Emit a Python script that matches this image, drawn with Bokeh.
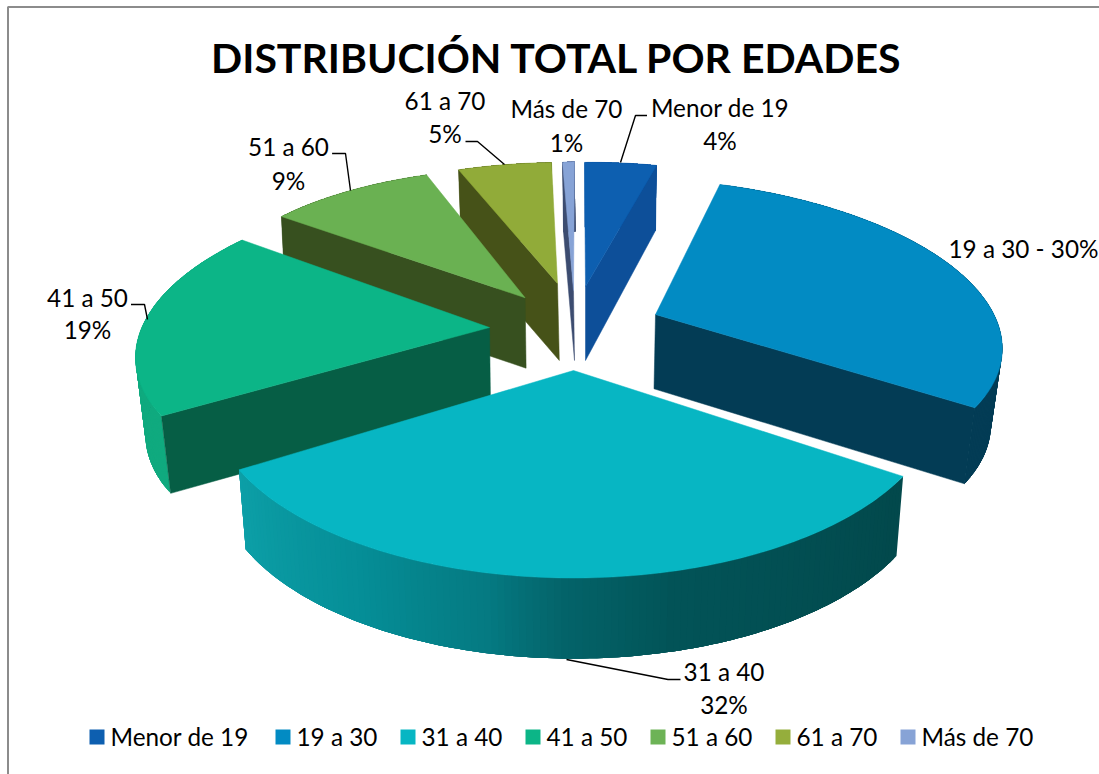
import numpy as np
from bokeh.plotting import figure
from bokeh.models import Range1d
from bokeh.core.properties import value
from bokeh.embed import file_html
from bokeh.resources import INLINE

TITLE = "DISTRIBUCIÓN TOTAL POR EDADES"
CATEGORIES = ["Menor de 19", "19 a 30", "31 a 40", "41 a 50", "51 a 60", "61 a 70", "Más de 70"]
PERCENT = [4, 30, 32, 19, 9, 5, 1]

TOP_COLORS = ["#0d5fb0", "#028bc3", "#07b6c3", "#0cb587", "#6ab152", "#91ab39", "#87a3d6"]
EDGE_COLORS = ["#0d4f99", "#033c55", "#03494c", "#065e45", "#37501f", "#465218", "#3c4c70"]
RIM_COLORS = ["#0d4f99", "#033c55", "#03494c", "#10aa7f", "#37501f", "#465218", "#3c4c70"]
LEGEND_COLORS = ["#0d5fb0", "#028bc3", "#07b6c3", "#0cb587", "#6db356", "#95ae3c", "#87a3d6"]

# Perspective frame of each exploded slice: apex x, apex y, ux, uy, vx, vy, a, b
FRAMES = [
    (585.0, 286.0, 289.235, -3.585, -1.000, -123.965, 0.000, -0.001),
    (655.0, 314.0, 351.186, 7.477, -14.730, -154.213, 0.028, 0.132),
    (573.0, 370.0, 361.249, 2.952, 7.345, -175.901, -0.006, 0.152),
    (489.0, 327.0, 345.778, 0.290, 32.674, -156.317, 0.005, 0.098),
    (524.6, 297.3, 319.938, 6.283, 18.910, -131.904, -0.011, 0.013),
    (557.0, 283.0, 301.591, 3.106, 12.966, -121.031, 0.000, 0.000),
    (573.0, 290.0, 191.080, -7.094, 1.000, -129.000, 0.000, 0.000),
]
# Thickness of each slice: drop at the apex, x shift at the apex, x scale, y scale
DEPTH = [
    (74.0, 0.0, 0.986, 1.074),
    (74.3, -1.5, 0.972, 1.018),
    (78.5, 0.0, 0.980, 1.010),
    (76.0, 1.0, 0.975, 1.015),
    (70.4, 1.0, 0.990, 1.000),
    (77.0, 1.8, 0.990, 1.000),
    (70.0, 1.0, 1.000, 1.000),
]
VISIBLE_EDGE = [1, 1, None, 0, 0, 0, 0]   # 0 = start edge, 1 = end edge
DRAW_ORDER = [0, 6, 5, 4, 3, 1, 2]

RIM_STOPS_ANGLE = [122.4, 165, 180, 190, 210, 237.6]
RIM_STOPS_RGB = [(3, 73, 76), (2, 84, 88), (4, 100, 106), (5, 122, 130), (6, 143, 152), (13, 160, 168)]

LABEL_POS = [(719.5, 107, 140), (1023, 248, None), (723.5, 671, 704), (87, 297, 329),
             (288, 146, 180), (444.5, 100, 133), (566, 108, 142)]
LEADERS = [
    ([620, 635, 646.5], [162, 115, 115]),
    ([566, 667.5, 680], [659, 679, 679]),
    ([130.5, 144, 147], [304, 304, 319]),
    ([331.6, 345, 350], [153, 153, 190]),
    ([465, 477, 504], [141, 141, 164]),
]
LEGEND_BOX_X = [89, 275, 400, 525, 650, 775, 900]
LEGEND_TEXT_X = [110, 296, 421, 546, 671, 796, 921]

W, H = 1099, 774
p = figure(width=W, height=H, output_backend="svg", toolbar_location=None,
           x_range=Range1d(0, W), y_range=Range1d(H, 0), min_border=0,
           outline_line_color=None, background_fill_color="white", border_fill_color="white")
p.styles = {"position": "absolute", "left": "0px", "top": "0px"}
p.axis.visible = False
p.grid.visible = False

FONT = value("Lato")
LABEL_SIZE = "24.3px"

# frame of the chart
p.line([7.5, 7.5, W], [H, 6.5, 6.5], line_color="#8c8c8c", line_width=2)

bounds = np.concatenate([[0], np.cumsum(PERCENT)]) * 3.6


def rim_xy(i, theta):
    ax, ay, ux, uy, vx, vy, a, b = FRAMES[i]
    r = np.radians(theta)
    s, c = np.sin(r), np.cos(r)
    w = 1 + a * s + b * c
    return (ux * s + vx * c) / w, (uy * s + vy * c) / w


def top_pts(i, theta):
    dx, dy = rim_xy(i, theta)
    return FRAMES[i][0] + dx, FRAMES[i][1] + dy


def bottom_pts(i, theta):
    dx, dy = rim_xy(i, theta)
    d, sh, sx, sy = DEPTH[i]
    return FRAMES[i][0] + sh + sx * dx, FRAMES[i][1] + d + sy * dy


for i in DRAW_ORDER:
    t0, t1 = bounds[i], bounds[i + 1]
    ax, ay = FRAMES[i][0], FRAMES[i][1]
    d, sh, sx, sy = DEPTH[i]
    theta = np.linspace(t0, t1, 120)
    n = len(theta)

    tx, ty = top_pts(i, theta)
    bx, by = bottom_pts(i, theta)

    # outer wall: overlapping bands, so the shading follows the angle without seams
    xs, ys, cols = [], [], []
    for j in range(n - 1):
        k = min(j + 5, n - 1)
        xs.append(np.concatenate([tx[j:k + 1], bx[j:k + 1][::-1]]))
        ys.append(np.concatenate([ty[j:k + 1], by[j:k + 1][::-1]]))
        if i == 2:
            rgb = [int(np.interp(theta[j], RIM_STOPS_ANGLE, [c[m] for c in RIM_STOPS_RGB])) for m in range(3)]
            cols.append("#%02x%02x%02x" % tuple(rgb))
        else:
            cols.append(RIM_COLORS[i])
    p.patches(xs, ys, fill_color=cols, line_color=None)

    # cut face
    if VISIBLE_EDGE[i] is not None:
        te = t0 if VISIBLE_EDGE[i] == 0 else t1
        ex, ey = top_pts(i, te)
        fx, fy = bottom_pts(i, te)
        p.patch([ax, ex, fx, ax + sh], [ay, ey, fy, ay + d],
                fill_color=EDGE_COLORS[i], line_color=EDGE_COLORS[i], line_width=0.5)

    # top face
    p.patch(np.concatenate([[ax], tx]), np.concatenate([[ay], ty]),
            fill_color=TOP_COLORS[i], line_color=TOP_COLORS[i], line_width=0.5)

# leader lines
for lx, ly in LEADERS:
    p.line(lx, ly, line_color="black", line_width=1.4)

# title
p.text([556.5], [57], text=[TITLE], text_font=FONT, text_font_style="bold", text_font_size="41px",
       text_align="center", text_baseline="middle", text_color="black")

# data labels
for i, (lx, ly1, ly2) in enumerate(LABEL_POS):
    if ly2 is None:
        p.text([lx], [ly1], text=[f"{CATEGORIES[i]} - {PERCENT[i]}%"], text_font=FONT, text_font_size=LABEL_SIZE,
               text_align="center", text_baseline="middle", text_color="black")
    else:
        p.text([lx, lx], [ly1, ly2], text=[CATEGORIES[i], f"{PERCENT[i]}%"], text_font=FONT, text_font_size=LABEL_SIZE,
               text_align="center", text_baseline="middle", text_color="black")

# legend
p.quad(left=LEGEND_BOX_X, right=[x + 15 for x in LEGEND_BOX_X], top=[729] * 7, bottom=[744] * 7,
       fill_color=LEGEND_COLORS, line_color=None)
p.text(LEGEND_TEXT_X, [736] * 7, text=CATEGORIES, text_font=FONT, text_font_size=LABEL_SIZE,
       text_align="left", text_baseline="middle", text_color="black")

open("out.html", "w").write(file_html(p, INLINE))
